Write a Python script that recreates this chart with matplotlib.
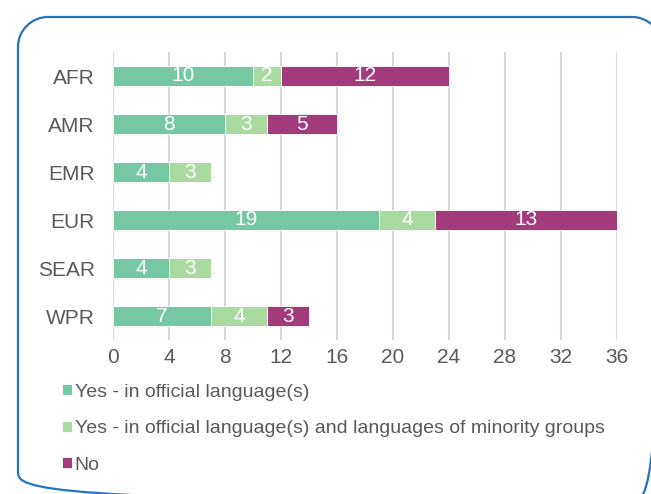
import matplotlib
matplotlib.use('Agg')
import matplotlib.pyplot as plt
import numpy as np
from matplotlib.path import Path
from matplotlib.patches import PathPatch

plt.rcParams['font.family'] = ['Liberation Sans', 'DejaVu Sans']

# data
regions = ['AFR', 'AMR', 'EMR', 'EUR', 'SEAR', 'WPR']
official = [10, 8, 4, 19, 4, 7]
minority = [2, 3, 3, 4, 3, 4]
no = [12, 5, 0, 13, 0, 3]
series_names = ['Yes - in official language(s)',
                'Yes - in official language(s) and languages of minority groups',
                'No']
colors = ['#76C8A4', '#A9DBA1', '#A23B7B']
xticks = [0, 4, 8, 12, 16, 20, 24, 28, 32, 36]

fig = plt.figure(figsize=(6.51, 4.94), dpi=100)

# rounded blue frame, in pixel coordinates (runs off the bottom/right edge)
bg = fig.add_axes([0, 0, 1, 1])
bg.set_xlim(0, 651)
bg.set_ylim(494, 0)
bg.axis('off')
x0, x1, y0, y1, r = 18, 662, 17, 502, 30
k = 0.5523 * r
verts = [(x0 + r, y0), (x1 - r, y0),
         (x1 - r + k, y0), (x1, y0 + r - k), (x1, y0 + r),
         (x1, y1 - r),
         (x1, y1 - r + k), (x1 - r + k, y1), (x1 - r, y1),
         (x0 + r, y1),
         (x0 + r - k, y1), (x0, y1 - r + k), (x0, y1 - r),
         (x0, y0 + r),
         (x0, y0 + r - k), (x0 + r - k, y0), (x0 + r, y0)]
codes = [Path.MOVETO, Path.LINETO,
         Path.CURVE4, Path.CURVE4, Path.CURVE4,
         Path.LINETO,
         Path.CURVE4, Path.CURVE4, Path.CURVE4,
         Path.LINETO,
         Path.CURVE4, Path.CURVE4, Path.CURVE4,
         Path.LINETO,
         Path.CURVE4, Path.CURVE4, Path.CURVE4]
bg.add_patch(PathPatch(Path(verts, codes), fill=False, edgecolor='#2473C0', linewidth=1.6))

ax = fig.add_axes([113/651, 1 - 340/494, (617 - 113)/651, (340 - 52)/494])
y = np.arange(len(regions))
left = np.zeros(len(regions))
for vals, name, c in zip([official, minority, no], series_names, colors):
    bars = ax.barh(y, vals, left=left, height=0.4, color=c, edgecolor='white',
                   linewidth=0.6, label=name, zorder=3)
    ax.bar_label(bars, labels=[str(v) if v else '' for v in vals], label_type='center',
                 color='white', fontsize=15)
    left += np.array(vals)

ax.set_ylim(5.5, -0.5)
ax.set_xlim(0, 36)
ax.set_xticks(xticks)
ax.set_yticks(y)
ax.set_yticklabels(regions)
ax.tick_params(length=0, labelsize=15, labelcolor='#595959')
ax.tick_params(axis='x', pad=5.5)
ax.tick_params(axis='y', pad=13)
ax.grid(axis='x', color='#D9D9D9', linewidth=1.5, zorder=0)
for s in ax.spines.values():
    s.set_visible(False)
ax.set_facecolor('none')

fig.legend(loc='upper left', bbox_to_anchor=(54/651, 1 - 376/494), frameon=False,
           fontsize=14, labelcolor='#595959', handlelength=0.5, handleheight=0.5,
           handletextpad=0.16, labelspacing=1.0, borderaxespad=0)

fig.savefig('out.png', dpi=100)
